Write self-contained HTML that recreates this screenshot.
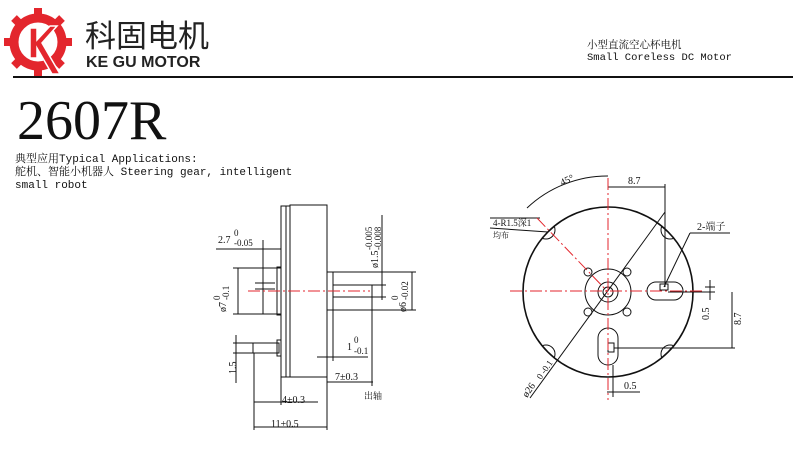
<!DOCTYPE html>
<html><head><meta charset="utf-8"><style>
html,body{margin:0;padding:0;background:#fff;}
svg{display:block}
.t{font-family:"Liberation Mono","Noto Serif CJK SC",monospace;fill:#111}
.s{font-family:"Liberation Serif","Noto Serif CJK SC",serif;fill:#111}
</style></head><body>
<svg width="800" height="469" viewBox="0 0 800 469" xmlns="http://www.w3.org/2000/svg">
<defs><clipPath id="cc"><circle cx="608" cy="292" r="85"/></clipPath></defs>
<!-- logo gear -->
<g fill="#e3262d">
<circle cx="38" cy="42" r="24" fill="none" stroke="#e3262d" stroke-width="9"/>
<g stroke="#e3262d" stroke-width="8">
<line x1="38" y1="8" x2="38" y2="16"/><line x1="38" y1="68" x2="38" y2="76"/>
<line x1="4" y1="42" x2="12" y2="42"/><line x1="64" y1="42" x2="72" y2="42"/>
<line x1="14" y1="18" x2="20" y2="24"/><line x1="56" y1="60" x2="62" y2="66"/>
<line x1="14" y1="66" x2="20" y2="60"/><line x1="56" y1="24" x2="62" y2="18"/>
</g>
<path d="M30 28 L37 28 L37 40 L50 26 L57 26 L42 43 L60 74 L52 74 L37 48 L37 58 L30 58 Z" fill="#e3262d" stroke="#fff" stroke-width="1.5"/>
</g>
<text x="85" y="47" font-family="Liberation Sans,'Noto Sans CJK SC',sans-serif" font-size="31" fill="#222">科固电机</text>
<text x="86" y="67" font-family="Liberation Sans,sans-serif" font-size="16" font-weight="bold" fill="#222">KE GU MOTOR</text>
<line x1="13" y1="77" x2="793" y2="77" stroke="#111" stroke-width="2"/>
<text x="587" y="48" class="t" font-size="10.5">小型直流空心杯电机</text>
<text x="587" y="60" class="t" font-size="10.5">Small Coreless DC Motor</text>
<text x="17" y="139" class="s" font-size="56">2607R</text>
<text x="15" y="162" class="t" font-size="11">典型应用Typical Applications:</text>
<text x="15" y="175" class="t" font-size="11">舵机、智能小机器人 Steering gear, intelligent</text>
<text x="15" y="188" class="t" font-size="11">small robot</text>

<!-- side view -->
<g stroke="#111" stroke-width="1" fill="none">
<rect x="281" y="206" width="9" height="171"/>
<line x1="286" y1="206" x2="286" y2="377"/>
<rect x="290" y="205" width="37" height="172"/>
<rect x="327" y="272" width="6" height="38"/>
<rect x="333" y="285" width="39" height="12"/>
<rect x="263" y="268" width="18" height="46"/>
<rect x="277" y="267" width="4" height="48"/>
<rect x="253" y="343" width="26" height="10"/>
<rect x="277" y="340" width="4" height="16"/>
<line x1="255" y1="283" x2="275" y2="283"/><line x1="255" y1="289" x2="275" y2="289"/>
<line x1="216" y1="249" x2="281" y2="249"/><line x1="263" y1="240" x2="263" y2="268"/>
<line x1="233" y1="268" x2="263" y2="268"/><line x1="233" y1="314" x2="263" y2="314"/>
<line x1="238" y1="268" x2="238" y2="314"/>
<line x1="233" y1="343" x2="253" y2="343"/><line x1="233" y1="353" x2="253" y2="353"/>
<line x1="236" y1="335" x2="236" y2="383"/>
<line x1="254" y1="353" x2="254" y2="430"/><line x1="281" y1="377" x2="281" y2="405"/>
<line x1="327" y1="377" x2="327" y2="430"/>
<line x1="254" y1="402" x2="318" y2="402"/>
<line x1="254" y1="427" x2="327" y2="427"/>
<line x1="327" y1="382" x2="373" y2="382"/><line x1="372" y1="297" x2="372" y2="386"/>
<line x1="333" y1="310" x2="333" y2="361"/><line x1="317" y1="357" x2="368" y2="357"/>
<line x1="333" y1="272" x2="416" y2="272"/><line x1="333" y1="310" x2="416" y2="310"/>
<line x1="412" y1="272" x2="412" y2="310"/>
<line x1="372" y1="285" x2="386" y2="285"/><line x1="372" y1="297" x2="386" y2="297"/>
<line x1="382" y1="215" x2="382" y2="300"/>
</g>
<line x1="248" y1="291" x2="370" y2="291" stroke="#e3262d" stroke-dasharray="12,3,2,3"/>
<g class="s" font-size="10">
<text x="218" y="243">2.7</text><text x="234" y="236" font-size="9">0</text><text x="234" y="246" font-size="9">-0.05</text>
<text x="282" y="403">4±0.3</text><text x="271" y="427">11±0.5</text><text x="335" y="380">7±0.3</text>
<text x="364" y="399" font-size="9">出轴</text>
<text x="347" y="350">1</text><text x="354" y="343" font-size="9">0</text><text x="354" y="354" font-size="9">-0.1</text>
<text transform="translate(236,374) rotate(-90)">1.5</text>
<text transform="translate(226,312) rotate(-90)">ø7</text>
<text transform="translate(220,300) rotate(-90)" font-size="9">0</text>
<text transform="translate(229,300) rotate(-90)" font-size="9">-0.1</text>
<text transform="translate(378,268) rotate(-90)">ø1.5</text>
<text transform="translate(372,250) rotate(-90)" font-size="9">-0.005</text>
<text transform="translate(381,250) rotate(-90)" font-size="9">-0.008</text>
<text transform="translate(406,312) rotate(-90)">ø6</text>
<text transform="translate(398,300) rotate(-90)" font-size="9">0</text>
<text transform="translate(408,300) rotate(-90)" font-size="9">-0.02</text>
</g>

<!-- front view -->
<g stroke="#111" stroke-width="1" fill="none">
<circle cx="608" cy="292" r="85" stroke-width="1.6"/>
<circle cx="608" cy="292" r="23"/><circle cx="608" cy="292" r="10"/><circle cx="608" cy="292" r="5"/>
<circle cx="588" cy="272" r="4"/><circle cx="627" cy="272" r="4"/><circle cx="588" cy="312" r="4"/><circle cx="627" cy="312" r="4"/>
<g clip-path="url(#cc)">
<circle cx="546" cy="230" r="9"/><circle cx="670" cy="230" r="9"/><circle cx="546" cy="354" r="9"/><circle cx="670" cy="354" r="9"/>
</g>
<rect x="647" y="282" width="36" height="18" rx="9"/>
<rect x="598" y="328" width="20" height="37" rx="10"/>
<rect x="660" y="284" width="8" height="6"/><rect x="608" y="343" width="6" height="9"/>
<path d="M608 176 A117 117 0 0 0 527 208"/>
<line x1="608" y1="187" x2="665" y2="187"/><line x1="665" y1="184" x2="665" y2="287"/>
<line x1="530" y1="398" x2="665" y2="212"/>
<line x1="490" y1="228" x2="548" y2="232"/>
<line x1="490" y1="218" x2="540" y2="218"/>
<line x1="664" y1="287" x2="690" y2="233"/><line x1="690" y1="233" x2="730" y2="233"/>
<line x1="668" y1="292" x2="715" y2="292"/><line x1="614" y1="348" x2="735" y2="348"/>
<line x1="710" y1="280" x2="710" y2="300"/><line x1="705" y1="287" x2="715" y2="287"/>
<line x1="732" y1="292" x2="732" y2="348"/>
<line x1="607" y1="392" x2="640" y2="392"/><line x1="613" y1="365" x2="613" y2="397"/>
</g>
<g stroke="#e3262d" stroke-width="1" stroke-dasharray="12,3,2,3">
<line x1="608" y1="178" x2="608" y2="400"/>
<line x1="510" y1="291" x2="703" y2="291"/>
<line x1="537" y1="218" x2="608" y2="292"/>
</g>
<g class="s" font-size="10">
<text x="628" y="184">8.7</text>
<text transform="translate(562,186) rotate(-25)">45°</text>
<text x="493" y="226" font-size="9">4-R1.5深1</text><text x="493" y="238" font-size="8">均布</text>
<text x="697" y="230">2-端子</text>
<text x="624" y="389">0.5</text>
<text transform="translate(709,320) rotate(-90)">0.5</text>
<text transform="translate(741,325) rotate(-90)">8.7</text>
<text transform="translate(527,398) rotate(-55)">ø26</text>
<text transform="translate(541,380) rotate(-55)" font-size="9">0 -0.1</text>
</g>
</svg>
</body></html>
